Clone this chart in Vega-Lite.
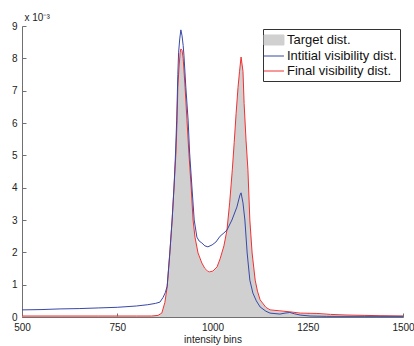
{
  "$schema": "https://vega.github.io/schema/vega-lite/v6.json",
  "width": 381,
  "height": 291,
  "autosize": {"type": "none"},
  "padding": {"left": 22, "top": 26, "right": 11, "bottom": 29},
  "background": "white",
  "config": {
    "view": {"stroke": null},
    "font": "Liberation Sans"
  },
  "datasets": {
    "curves": [
      {"bin": 500, "density": 0.03, "series": "Final visibility dist."},
      {"bin": 600, "density": 0.03, "series": "Final visibility dist."},
      {"bin": 700, "density": 0.03, "series": "Final visibility dist."},
      {"bin": 800, "density": 0.03, "series": "Final visibility dist."},
      {"bin": 840, "density": 0.03, "series": "Final visibility dist."},
      {"bin": 857, "density": 0.05, "series": "Final visibility dist."},
      {"bin": 867, "density": 0.12, "series": "Final visibility dist."},
      {"bin": 875, "density": 0.45, "series": "Final visibility dist."},
      {"bin": 881, "density": 0.93, "series": "Final visibility dist."},
      {"bin": 888, "density": 1.98, "series": "Final visibility dist."},
      {"bin": 894, "density": 3.0, "series": "Final visibility dist."},
      {"bin": 899, "density": 4.02, "series": "Final visibility dist."},
      {"bin": 904, "density": 5.07, "series": "Final visibility dist."},
      {"bin": 907, "density": 6.09, "series": "Final visibility dist."},
      {"bin": 909, "density": 7.11, "series": "Final visibility dist."},
      {"bin": 912, "density": 7.7, "series": "Final visibility dist."},
      {"bin": 915, "density": 8.17, "series": "Final visibility dist."},
      {"bin": 917, "density": 8.29, "series": "Final visibility dist."},
      {"bin": 920, "density": 8.25, "series": "Final visibility dist."},
      {"bin": 923, "density": 8.0, "series": "Final visibility dist."},
      {"bin": 928, "density": 7.11, "series": "Final visibility dist."},
      {"bin": 933, "density": 6.09, "series": "Final visibility dist."},
      {"bin": 938, "density": 5.07, "series": "Final visibility dist."},
      {"bin": 944, "density": 4.02, "series": "Final visibility dist."},
      {"bin": 949, "density": 3.0, "series": "Final visibility dist."},
      {"bin": 954, "density": 2.47, "series": "Final visibility dist."},
      {"bin": 962, "density": 1.98, "series": "Final visibility dist."},
      {"bin": 972, "density": 1.67, "series": "Final visibility dist."},
      {"bin": 980, "density": 1.5, "series": "Final visibility dist."},
      {"bin": 986, "density": 1.43, "series": "Final visibility dist."},
      {"bin": 991, "density": 1.39, "series": "Final visibility dist."},
      {"bin": 1001, "density": 1.42, "series": "Final visibility dist."},
      {"bin": 1012, "density": 1.55, "series": "Final visibility dist."},
      {"bin": 1020, "density": 1.8, "series": "Final visibility dist."},
      {"bin": 1030, "density": 2.2, "series": "Final visibility dist."},
      {"bin": 1038, "density": 2.69, "series": "Final visibility dist."},
      {"bin": 1045, "density": 3.53, "series": "Final visibility dist."},
      {"bin": 1052, "density": 4.55, "series": "Final visibility dist."},
      {"bin": 1057, "density": 5.4, "series": "Final visibility dist."},
      {"bin": 1062, "density": 6.3, "series": "Final visibility dist."},
      {"bin": 1067, "density": 7.1, "series": "Final visibility dist."},
      {"bin": 1071, "density": 7.6, "series": "Final visibility dist."},
      {"bin": 1075, "density": 8.04, "series": "Final visibility dist."},
      {"bin": 1080, "density": 7.6, "series": "Final visibility dist."},
      {"bin": 1083, "density": 6.6, "series": "Final visibility dist."},
      {"bin": 1088, "density": 5.47, "series": "Final visibility dist."},
      {"bin": 1093, "density": 4.55, "series": "Final visibility dist."},
      {"bin": 1098, "density": 3.0, "series": "Final visibility dist."},
      {"bin": 1104, "density": 1.98, "series": "Final visibility dist."},
      {"bin": 1112, "density": 1.14, "series": "Final visibility dist."},
      {"bin": 1118, "density": 0.8, "series": "Final visibility dist."},
      {"bin": 1125, "density": 0.53, "series": "Final visibility dist."},
      {"bin": 1140, "density": 0.3, "series": "Final visibility dist."},
      {"bin": 1151, "density": 0.22, "series": "Final visibility dist."},
      {"bin": 1177, "density": 0.19, "series": "Final visibility dist."},
      {"bin": 1203, "density": 0.16, "series": "Final visibility dist."},
      {"bin": 1230, "density": 0.12, "series": "Final visibility dist."},
      {"bin": 1274, "density": 0.11, "series": "Final visibility dist."},
      {"bin": 1310, "density": 0.08, "series": "Final visibility dist."},
      {"bin": 1353, "density": 0.06, "series": "Final visibility dist."},
      {"bin": 1400, "density": 0.05, "series": "Final visibility dist."},
      {"bin": 1440, "density": 0.04, "series": "Final visibility dist."},
      {"bin": 1500, "density": 0.03, "series": "Final visibility dist."},

      {"bin": 500, "density": 0.22, "series": "Intitial visibility dist."},
      {"bin": 550, "density": 0.23, "series": "Intitial visibility dist."},
      {"bin": 600, "density": 0.25, "series": "Intitial visibility dist."},
      {"bin": 650, "density": 0.26, "series": "Intitial visibility dist."},
      {"bin": 700, "density": 0.28, "series": "Intitial visibility dist."},
      {"bin": 750, "density": 0.3, "series": "Intitial visibility dist."},
      {"bin": 800, "density": 0.34, "series": "Intitial visibility dist."},
      {"bin": 830, "density": 0.38, "series": "Intitial visibility dist."},
      {"bin": 850, "density": 0.42, "series": "Intitial visibility dist."},
      {"bin": 862, "density": 0.46, "series": "Intitial visibility dist."},
      {"bin": 870, "density": 0.6, "series": "Intitial visibility dist."},
      {"bin": 876, "density": 0.75, "series": "Intitial visibility dist."},
      {"bin": 881, "density": 0.95, "series": "Intitial visibility dist."},
      {"bin": 888, "density": 1.98, "series": "Intitial visibility dist."},
      {"bin": 894, "density": 3.0, "series": "Intitial visibility dist."},
      {"bin": 899, "density": 4.02, "series": "Intitial visibility dist."},
      {"bin": 903, "density": 5.07, "series": "Intitial visibility dist."},
      {"bin": 906, "density": 6.09, "series": "Intitial visibility dist."},
      {"bin": 909, "density": 7.5, "series": "Intitial visibility dist."},
      {"bin": 911, "density": 8.17, "series": "Intitial visibility dist."},
      {"bin": 914, "density": 8.6, "series": "Intitial visibility dist."},
      {"bin": 917, "density": 8.88, "series": "Intitial visibility dist."},
      {"bin": 920, "density": 8.7, "series": "Intitial visibility dist."},
      {"bin": 923, "density": 8.4, "series": "Intitial visibility dist."},
      {"bin": 925, "density": 8.1, "series": "Intitial visibility dist."},
      {"bin": 930, "density": 7.11, "series": "Intitial visibility dist."},
      {"bin": 936, "density": 6.09, "series": "Intitial visibility dist."},
      {"bin": 940, "density": 5.07, "series": "Intitial visibility dist."},
      {"bin": 946, "density": 4.02, "series": "Intitial visibility dist."},
      {"bin": 952, "density": 3.0, "series": "Intitial visibility dist."},
      {"bin": 959, "density": 2.47, "series": "Intitial visibility dist."},
      {"bin": 965, "density": 2.35, "series": "Intitial visibility dist."},
      {"bin": 972, "density": 2.29, "series": "Intitial visibility dist."},
      {"bin": 980, "density": 2.2, "series": "Intitial visibility dist."},
      {"bin": 988, "density": 2.17, "series": "Intitial visibility dist."},
      {"bin": 999, "density": 2.23, "series": "Intitial visibility dist."},
      {"bin": 1009, "density": 2.32, "series": "Intitial visibility dist."},
      {"bin": 1020, "density": 2.5, "series": "Intitial visibility dist."},
      {"bin": 1030, "density": 2.6, "series": "Intitial visibility dist."},
      {"bin": 1038, "density": 2.69, "series": "Intitial visibility dist."},
      {"bin": 1051, "density": 3.0, "series": "Intitial visibility dist."},
      {"bin": 1064, "density": 3.4, "series": "Intitial visibility dist."},
      {"bin": 1072, "density": 3.77, "series": "Intitial visibility dist."},
      {"bin": 1075, "density": 3.84, "series": "Intitial visibility dist."},
      {"bin": 1080, "density": 3.53, "series": "Intitial visibility dist."},
      {"bin": 1085, "density": 3.0, "series": "Intitial visibility dist."},
      {"bin": 1091, "density": 1.98, "series": "Intitial visibility dist."},
      {"bin": 1098, "density": 1.14, "series": "Intitial visibility dist."},
      {"bin": 1106, "density": 0.74, "series": "Intitial visibility dist."},
      {"bin": 1115, "density": 0.5, "series": "Intitial visibility dist."},
      {"bin": 1125, "density": 0.31, "series": "Intitial visibility dist."},
      {"bin": 1140, "density": 0.18, "series": "Intitial visibility dist."},
      {"bin": 1151, "density": 0.12, "series": "Intitial visibility dist."},
      {"bin": 1177, "density": 0.09, "series": "Intitial visibility dist."},
      {"bin": 1190, "density": 0.12, "series": "Intitial visibility dist."},
      {"bin": 1203, "density": 0.14, "series": "Intitial visibility dist."},
      {"bin": 1215, "density": 0.1, "series": "Intitial visibility dist."},
      {"bin": 1230, "density": 0.06, "series": "Intitial visibility dist."},
      {"bin": 1256, "density": 0.03, "series": "Intitial visibility dist."},
      {"bin": 1300, "density": 0.02, "series": "Intitial visibility dist."},
      {"bin": 1400, "density": 0.02, "series": "Intitial visibility dist."},
      {"bin": 1500, "density": 0.02, "series": "Intitial visibility dist."}
    ],
    "target": [
      {"bin": 500, "density": 0.02, "series": "Target dist."},
      {"bin": 840, "density": 0.02, "series": "Target dist."},
      {"bin": 857, "density": 0.04, "series": "Target dist."},
      {"bin": 867, "density": 0.1, "series": "Target dist."},
      {"bin": 875, "density": 0.42, "series": "Target dist."},
      {"bin": 881, "density": 0.9, "series": "Target dist."},
      {"bin": 888, "density": 1.95, "series": "Target dist."},
      {"bin": 894, "density": 2.97, "series": "Target dist."},
      {"bin": 899, "density": 4.0, "series": "Target dist."},
      {"bin": 904, "density": 5.05, "series": "Target dist."},
      {"bin": 907, "density": 6.05, "series": "Target dist."},
      {"bin": 909, "density": 7.05, "series": "Target dist."},
      {"bin": 912, "density": 7.65, "series": "Target dist."},
      {"bin": 915, "density": 8.1, "series": "Target dist."},
      {"bin": 917, "density": 8.25, "series": "Target dist."},
      {"bin": 920, "density": 8.2, "series": "Target dist."},
      {"bin": 923, "density": 7.95, "series": "Target dist."},
      {"bin": 928, "density": 7.05, "series": "Target dist."},
      {"bin": 933, "density": 6.05, "series": "Target dist."},
      {"bin": 938, "density": 5.05, "series": "Target dist."},
      {"bin": 944, "density": 4.0, "series": "Target dist."},
      {"bin": 949, "density": 2.97, "series": "Target dist."},
      {"bin": 954, "density": 2.45, "series": "Target dist."},
      {"bin": 962, "density": 1.96, "series": "Target dist."},
      {"bin": 972, "density": 1.65, "series": "Target dist."},
      {"bin": 980, "density": 1.48, "series": "Target dist."},
      {"bin": 986, "density": 1.41, "series": "Target dist."},
      {"bin": 991, "density": 1.37, "series": "Target dist."},
      {"bin": 1001, "density": 1.4, "series": "Target dist."},
      {"bin": 1012, "density": 1.53, "series": "Target dist."},
      {"bin": 1020, "density": 1.78, "series": "Target dist."},
      {"bin": 1030, "density": 2.18, "series": "Target dist."},
      {"bin": 1038, "density": 2.67, "series": "Target dist."},
      {"bin": 1045, "density": 3.5, "series": "Target dist."},
      {"bin": 1052, "density": 4.52, "series": "Target dist."},
      {"bin": 1057, "density": 5.37, "series": "Target dist."},
      {"bin": 1062, "density": 6.27, "series": "Target dist."},
      {"bin": 1067, "density": 7.07, "series": "Target dist."},
      {"bin": 1071, "density": 7.57, "series": "Target dist."},
      {"bin": 1075, "density": 8.0, "series": "Target dist."},
      {"bin": 1080, "density": 7.57, "series": "Target dist."},
      {"bin": 1083, "density": 6.57, "series": "Target dist."},
      {"bin": 1088, "density": 5.44, "series": "Target dist."},
      {"bin": 1093, "density": 4.52, "series": "Target dist."},
      {"bin": 1098, "density": 2.97, "series": "Target dist."},
      {"bin": 1104, "density": 1.95, "series": "Target dist."},
      {"bin": 1112, "density": 1.12, "series": "Target dist."},
      {"bin": 1118, "density": 0.78, "series": "Target dist."},
      {"bin": 1125, "density": 0.51, "series": "Target dist."},
      {"bin": 1140, "density": 0.28, "series": "Target dist."},
      {"bin": 1151, "density": 0.2, "series": "Target dist."},
      {"bin": 1177, "density": 0.17, "series": "Target dist."},
      {"bin": 1203, "density": 0.14, "series": "Target dist."},
      {"bin": 1230, "density": 0.1, "series": "Target dist."},
      {"bin": 1274, "density": 0.09, "series": "Target dist."},
      {"bin": 1310, "density": 0.06, "series": "Target dist."},
      {"bin": 1353, "density": 0.04, "series": "Target dist."},
      {"bin": 1400, "density": 0.03, "series": "Target dist."},
      {"bin": 1500, "density": 0.02, "series": "Target dist."}
    ]
  },
  "encoding": {
    "x": {
      "field": "bin",
      "type": "quantitative",
      "scale": {"domain": [500, 1500], "nice": false, "zero": false},
      "axis": {
        "title": "intensity bins",
        "values": [500, 750, 1000, 1250, 1500],
        "format": "d",
        "grid": false,
        "domainColor": "#707070",
        "tickColor": "#707070",
        "tickSize": -4,
        "labelPadding": 9,
        "labelFont": "Liberation Sans",
        "labelFontSize": 10,
        "labelColor": "#222222",
        "labelFlush": false,
        "titleFont": "Liberation Sans",
        "titleFontSize": 10,
        "titleFontWeight": "normal",
        "titleColor": "#222222",
        "titlePadding": 2
      }
    },
    "y": {
      "field": "density",
      "type": "quantitative",
      "scale": {"domain": [0, 9], "nice": false},
      "axis": {
        "title": "x 10⁻³",
        "titleAngle": 0,
        "titleAlign": "left",
        "titleBaseline": "bottom",
        "titleX": 2,
        "titleY": -4,
        "titleFont": "Liberation Sans",
        "titleFontSize": 10,
        "titleFontWeight": "normal",
        "titleColor": "#222222",
        "values": [0, 1, 2, 3, 4, 5, 6, 7, 8, 9],
        "grid": false,
        "domainColor": "#707070",
        "tickColor": "#707070",
        "tickSize": -4,
        "labelPadding": 9,
        "labelFont": "Liberation Sans",
        "labelFontSize": 10,
        "labelColor": "#222222",
        "labelFlush": false,
        "encode": {
          "labels": {
            "update": {
              "dy": [
                {"test": "datum.value === 0", "value": -3},
                {"value": 0}
              ]
            }
          }
        }
      }
    },
    "color": {
      "field": "series",
      "type": "nominal",
      "scale": {
        "domain": ["Target dist.", "Intitial visibility dist.", "Final visibility dist."],
        "range": ["#d0d0d0", "#3848a8", "#f03030"]
      },
      "legend": {
        "title": null,
        "orient": "none",
        "legendX": 241,
        "legendY": 3,
        "strokeColor": "#333333",
        "fillColor": "white",
        "padding": 3,
        "rowPadding": 0,
        "labelFont": "Liberation Sans",
        "labelFontSize": 13,
        "labelColor": "#111111",
        "labelOffset": 5,
        "symbolSize": 225,
        "symbolType": "stroke",
        "symbolStrokeWidth": 1,
        "encode": {
          "symbols": {
            "update": {
              "shape": [
                {"test": "datum.value === 'Target dist.'", "value": "M-1.33,-0.67H1.33V0.67H-1.33Z"},
                {"value": "M-1.33,0H1.33"}
              ],
              "fill": [
                {"test": "datum.value === 'Target dist.'", "value": "#d0d0d0"},
                {"value": "transparent"}
              ],
              "stroke": [
                {"test": "datum.value === 'Target dist.'", "value": "transparent"},
                {"test": "datum.value === 'Intitial visibility dist.'", "value": "#3848a8"},
                {"test": "datum.value === 'Final visibility dist.'", "value": "#f03030"},
                {"value": "#f03030"}
              ],
              "strokeWidth": {"value": 1},
              "opacity": {"value": 1}
            }
          }
        }
      }
    }
  },
  "layer": [
    {
      "data": {"name": "target"},
      "mark": {"type": "area", "opacity": 1, "interpolate": "linear"}
    },
    {
      "data": {"name": "curves"},
      "mark": {"type": "line", "strokeWidth": 1, "interpolate": "linear"}
    }
  ]
}
